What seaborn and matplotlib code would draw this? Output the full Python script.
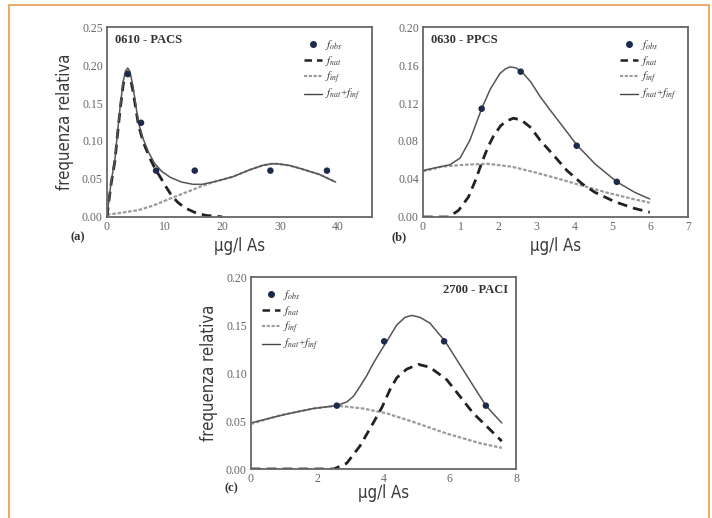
import matplotlib
matplotlib.use("Agg")
import matplotlib.pyplot as plt
import seaborn as sns
from matplotlib.lines import Line2D
from matplotlib.patches import Rectangle

sns.set_theme(style="white")
plt.rcParams['font.family'] = ['Liberation Serif', 'DejaVu Serif']
plt.rcParams['mathtext.fontset'] = 'stix'

# ---------------- data: panel (a) 0610 - PACS ----------------
a_obs_x = [3.6, 5.9, 8.5, 15.2, 28.3, 38.1]
a_obs_y = [0.188, 0.124, 0.061, 0.061, 0.061, 0.061]
a_tot_x = [0, 0.23, 0.7, 1.39, 1.8, 2.25, 2.8, 3.2, 3.58, 3.95, 4.5, 5.42, 6.2, 7.15, 8.2, 9.47, 11.0, 12.9, 14.9, 16.5, 18.9, 21.8, 24.7, 27.0, 28.5, 29.5, 31.5, 33.4, 36.8, 39.6]
a_tot_y = [0.0, 0.016, 0.045, 0.077, 0.110, 0.143, 0.178, 0.192, 0.196, 0.192, 0.172, 0.125, 0.104, 0.086, 0.071, 0.060, 0.052, 0.046, 0.043, 0.043, 0.047, 0.053, 0.062, 0.068, 0.070, 0.070, 0.068, 0.064, 0.056, 0.046]
a_nat_x = [0, 0.23, 0.7, 1.39, 1.8, 2.25, 2.8, 3.2, 3.58, 3.95, 4.5, 5.42, 6.3, 7.45, 8.3, 9.18, 10.2, 11.2, 12.3, 13.5, 15.5, 17.2, 19.0, 20.0]
a_nat_y = [0.0, 0.015, 0.043, 0.075, 0.107, 0.140, 0.174, 0.188, 0.191, 0.186, 0.166, 0.122, 0.098, 0.077, 0.064, 0.053, 0.040, 0.028, 0.019, 0.012, 0.005, 0.002, 0.001, 0.0]
a_inf_x = [0, 2.0, 5.4, 8.0, 11.2, 13.2, 14.9, 16.5, 18.9, 21.8, 24.7, 27.0, 28.5, 29.5, 31.5, 33.4, 36.8, 39.6]
a_inf_y = [0.003, 0.005, 0.009, 0.015, 0.025, 0.031, 0.036, 0.041, 0.047, 0.053, 0.062, 0.068, 0.070, 0.070, 0.068, 0.064, 0.056, 0.046]

# ---------------- data: panel (b) 0630 - PPCS ----------------
b_obs_x = [1.55, 2.58, 4.06, 5.12]
b_obs_y = [0.114, 0.153, 0.075, 0.037]
b_tot_x = [0, 0.35, 0.71, 0.98, 1.24, 1.4, 1.55, 1.77, 2.03, 2.18, 2.30, 2.45, 2.61, 2.85, 3.09, 3.35, 3.62, 4.06, 4.54, 5.12, 5.59, 5.99]
b_tot_y = [0.049, 0.052, 0.055, 0.062, 0.081, 0.098, 0.114, 0.134, 0.151, 0.156, 0.158, 0.157, 0.153, 0.142, 0.127, 0.113, 0.099, 0.076, 0.056, 0.037, 0.026, 0.019]
b_nat_x = [0, 0.68, 0.94, 1.2, 1.4, 1.55, 1.72, 1.86, 2.05, 2.2, 2.39, 2.6, 2.85, 3.09, 3.45, 3.80, 4.2, 4.54, 5.07, 5.59, 5.99]
b_nat_y = [0.0, 0.0, 0.007, 0.021, 0.040, 0.057, 0.074, 0.085, 0.096, 0.101, 0.104, 0.102, 0.094, 0.081, 0.065, 0.049, 0.035, 0.026, 0.016, 0.009, 0.005]
b_inf_x = [0, 0.5, 1.1, 1.7, 2.34, 2.96, 3.6, 4.21, 4.82, 5.44, 5.99]
b_inf_y = [0.048, 0.053, 0.055, 0.056, 0.053, 0.047, 0.040, 0.033, 0.026, 0.020, 0.015]

# ---------------- data: panel (c) 2700 - PACI ----------------
c_obs_x = [2.59, 4.02, 5.83, 7.09]
c_obs_y = [0.066, 0.133, 0.133, 0.066]
c_tot_x = [0, 0.57, 1.18, 1.88, 2.59, 2.9, 3.1, 3.29, 3.49, 3.69, 3.9, 4.10, 4.40, 4.65, 4.85, 5.1, 5.40, 5.86, 6.41, 7.09, 7.57]
c_tot_y = [0.048, 0.053, 0.058, 0.063, 0.066, 0.070, 0.076, 0.086, 0.097, 0.110, 0.122, 0.133, 0.150, 0.158, 0.160, 0.158, 0.152, 0.133, 0.103, 0.066, 0.048]
c_nat_x = [0, 2.5, 2.89, 3.29, 3.69, 3.95, 4.2, 4.40, 4.7, 5.05, 5.4, 5.91, 6.3, 6.71, 7.1, 7.57]
c_nat_y = [0.0, 0.0, 0.006, 0.024, 0.048, 0.064, 0.083, 0.095, 0.104, 0.109, 0.106, 0.093, 0.076, 0.058, 0.045, 0.029]
c_inf_x = [0, 0.88, 1.88, 2.59, 3.39, 4.09, 4.9, 5.9, 6.9, 7.57]
c_inf_y = [0.047, 0.056, 0.063, 0.066, 0.063, 0.058, 0.049, 0.037, 0.027, 0.022]

legend_labels = [r'$f_{obs}$', r'$f_{nat}$', r'$f_{inf}$', r'$f_{nat}$+$f_{inf}$']

NAT_KW = dict(color='#222222', lw=2.0, dashes=(3.5, 2.2))
INF_KW = dict(color='#9a9a9a', lw=1.6, dashes=(1.6, 0.8))
TOT_KW = dict(color='#555555', lw=1.1)
OBS_COLOR = '#1c2b4a'
SANS = dict(family=['DejaVu Sans'], fontstretch='condensed')

fig = plt.figure(figsize=(7.12, 5.18), dpi=100)
fig.patch.set_facecolor('white')

# orange outer frame
fig.add_artist(Rectangle((9/712, -0.05), (709-9)/712, 1.05 - 5/518,
                         transform=fig.transFigure, fill=False,
                         edgecolor='#e9a35a', lw=1.3))


def panel(rect, ox, oy, tx, ty, nx, ny, ix, iy, xlim, xticks, ylim, yticks,
          title, title_loc, tag, tag_pos, legend_loc, ylabel, xpad):
    ax = fig.add_axes(rect)
    sns.lineplot(x=ix, y=iy, ax=ax, **INF_KW)
    sns.lineplot(x=nx, y=ny, ax=ax, **NAT_KW)
    sns.lineplot(x=tx, y=ty, ax=ax, **TOT_KW)
    sns.scatterplot(x=ox, y=oy, ax=ax, color=OBS_COLOR, s=22, edgecolor='none', zorder=5)
    ax.set_xlim(*xlim)
    ax.set_ylim(*ylim)
    ax.set_xticks(xticks)
    ax.set_yticks(yticks)
    ax.set_xticklabels([f"{t:g}" for t in xticks])
    ax.set_yticklabels([f"{t:.2f}" for t in yticks])
    ax.tick_params(axis='both', direction='in', length=3, width=0.8,
                   labelsize=8.5, labelcolor='#666666', color='#555555', pad=3)
    for sp in ax.spines.values():
        sp.set_color('#666666')
        sp.set_linewidth(1.3)
    ax.set_xlabel('µg/l As', fontsize=12, color='#3a3a3a', labelpad=xpad, **SANS)
    if ylabel:
        ax.set_ylabel('frequenza relativa', fontsize=12, color='#3a3a3a',
                      labelpad=6, **SANS)
    else:
        ax.set_ylabel('')
    if title_loc == 'left':
        ax.text(0.03, 0.93, title, transform=ax.transAxes, fontsize=9,
                fontweight='bold', color='#333333', ha='left', va='center')
    else:
        ax.text(0.97, 0.93, title, transform=ax.transAxes, fontsize=9,
                fontweight='bold', color='#333333', ha='right', va='center')
    ax.text(tag_pos[0], tag_pos[1], tag, transform=ax.transAxes, fontsize=9,
            fontweight='bold', color='#333333', ha='center', va='center')
    handles = [
        Line2D([], [], ls='none', marker='o', ms=4, color=OBS_COLOR),
        Line2D([], [], color='#222222', lw=1.8, dashes=(3, 2)),
        Line2D([], [], color='#9a9a9a', lw=1.5, dashes=(1.5, 0.8)),
        Line2D([], [], color='#444444', lw=1.0),
    ]
    leg = ax.legend(handles, legend_labels, loc=legend_loc, frameon=False,
                    fontsize=8, handlelength=1.6, handletextpad=0.3,
                    labelspacing=0.15, borderaxespad=0.6)
    for t in leg.get_texts():
        t.set_color('#333333')
    return ax


panel([107/712, 1-217/518, 265/712, 190/518],
      a_obs_x, a_obs_y, a_tot_x, a_tot_y, a_nat_x, a_nat_y, a_inf_x, a_inf_y,
      (0, 45.9), [0, 10, 20, 30, 40], (0, 0.25), [0, 0.05, 0.10, 0.15, 0.20, 0.25],
      '0610 - PACS', 'left', '(a)', (-0.11, -0.105), 'upper right', True, 3)

panel([423/712, 1-217/518, 265/712, 190/518],
      b_obs_x, b_obs_y, b_tot_x, b_tot_y, b_nat_x, b_nat_y, b_inf_x, b_inf_y,
      (0, 7), [0, 1, 2, 3, 4, 5, 6, 7], (0, 0.20), [0, 0.04, 0.08, 0.12, 0.16, 0.20],
      '0630 - PPCS', 'left', '(b)', (-0.09, -0.105), 'upper right', False, 3)

panel([251/712, 1-469/518, 265/712, 192/518],
      c_obs_x, c_obs_y, c_tot_x, c_tot_y, c_nat_x, c_nat_y, c_inf_x, c_inf_y,
      (0, 8), [0, 2, 4, 6, 8], (0, 0.20), [0, 0.05, 0.10, 0.15, 0.20],
      '2700 - PACI', 'right', '(c)', (-0.075, -0.1), 'upper left', True, -1)

fig.savefig('out.png', dpi=100, facecolor='white')
